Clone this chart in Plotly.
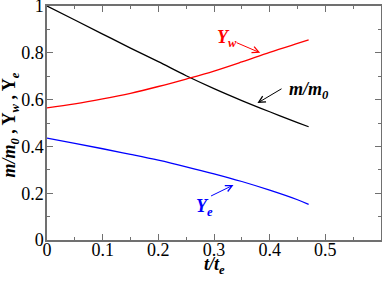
import plotly.graph_objects as go

t = [0.0, 0.05, 0.10, 0.15, 0.20, 0.25, 0.30, 0.35, 0.40, 0.45, 0.47]
m_m0 = [1.0, 0.940, 0.880, 0.820, 0.762, 0.702, 0.647, 0.596, 0.548, 0.502, 0.484]
Y_w = [0.565, 0.582, 0.603, 0.627, 0.656, 0.688, 0.722, 0.761, 0.802, 0.840, 0.855]
Y_e = [0.435, 0.413, 0.390, 0.366, 0.341, 0.313, 0.283, 0.250, 0.213, 0.172, 0.152]

xticks = [0, 0.1, 0.2, 0.3, 0.4, 0.5]
xticklabels = ["0", "0.1", "0.2", "0.3", "0.4", "0.5"]
yticks = [0, 0.2, 0.4, 0.6, 0.8, 1.0]
yticklabels = ["0", "0.2", "0.4", "0.6", "0.8", "1"]

FONT = "Liberation Serif"
frame = "#707070"

fig = go.Figure()
fig.add_trace(go.Scatter(x=t, y=m_m0, mode="lines", line=dict(color="black", width=1.3, shape="spline")))
fig.add_trace(go.Scatter(x=t, y=Y_w, mode="lines", line=dict(color="red", width=1.3, shape="spline")))
fig.add_trace(go.Scatter(x=t, y=Y_e, mode="lines", line=dict(color="blue", width=1.3, shape="spline")))

axis_common = dict(showgrid=False, zeroline=False, showline=True, linecolor=frame, linewidth=1.5,
                   mirror="allticks", ticks="inside", ticklen=6, tickcolor=frame, tickwidth=1,
                   automargin=False, ticklabeloverflow="allow",
                   tickfont=dict(family=FONT, size=18, color="black"))

fig.update_xaxes(range=[0, 0.6], tickvals=xticks, ticktext=xticklabels,
                 minor=dict(dtick=0.05, ticks="inside", ticklen=3, tickcolor=frame),
                 ticklabelstandoff=-7, **axis_common)
fig.update_yaxes(range=[0, 1], tickvals=yticks, ticktext=yticklabels,
                 minor=dict(dtick=0.1, ticks="inside", ticklen=3, tickcolor=frame),
                 ticklabelstandoff=-2, **axis_common)

# axis titles placed in paper coordinates
fig.add_annotation(x=0.5, y=-0.108, xref="paper", yref="paper", xanchor="center", yanchor="middle",
                   showarrow=False,
                   text="<b><i>t/t<sub>e</sub></i></b>", font=dict(family=FONT, size=18, color="black"))
fig.add_annotation(x=-0.11, y=0.49, xref="paper", yref="paper", xanchor="center", yanchor="middle",
                   showarrow=False, textangle=-90,
                   text="<b><i>m/m<sub>0</sub></i> , Y<sub><i>w</i></sub> , Y<sub><i>e</i></sub></b>",
                   font=dict(family=FONT, size=18, color="black"))

def label(x, y, text, color):
    fig.add_annotation(x=x, y=y, xref="x", yref="y", text=f"<b><i>{text}</i></b>", showarrow=False,
                       font=dict(family=FONT, size=18, color=color))

def arrow(x0, y0, x1, y1, color):
    fig.add_annotation(x=x1, y=y1, ax=x0, ay=y0, xref="x", yref="y", axref="x", ayref="y",
                       text="", showarrow=True, arrowhead=5, arrowsize=1.3, arrowwidth=1,
                       arrowcolor=color, standoff=0, startstandoff=0)

label(0.324, 0.86, "Y<sub>w</sub>", "red")
arrow(0.338, 0.846, 0.383, 0.80, "red")
label(0.47, 0.64, "m/m<sub>0</sub>", "black")
arrow(0.424, 0.65, 0.378, 0.585, "black")
label(0.283, 0.14, "Y<sub>e</sub>", "blue")
arrow(0.292, 0.185, 0.335, 0.235, "blue")

fig.update_layout(width=382, height=281, margin=dict(l=47, r=1, t=6, b=41),
                  plot_bgcolor="white", paper_bgcolor="white", showlegend=False)

fig.write_html("out.html", config={"displayModeBar": False},
               post_script="document.body.style.margin='0';document.body.style.padding='0';")
